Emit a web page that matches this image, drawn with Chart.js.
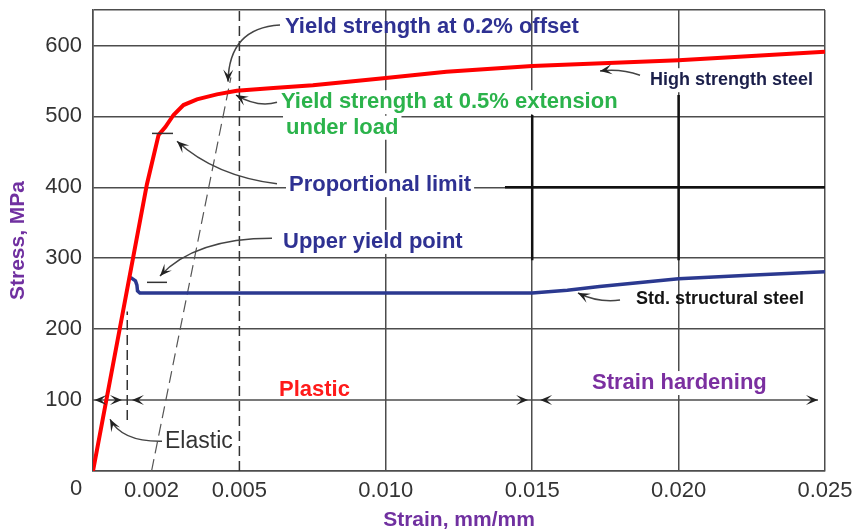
<!DOCTYPE html>
<html>
<head>
<meta charset="utf-8">
<script src="https://cdn.jsdelivr.net/npm/chart.js@4.4.0/dist/chart.umd.min.js"></script>
<style>
  html, body { margin: 0; padding: 0; background: #fff; }
</style>
</head>
<body>
<canvas id="stressChart" width="857" height="531"></canvas>
<script>
'use strict'
// values
var highStrengthStrain = [0, 0.00184, 0.00224, 0.00247, 0.00275, 0.00309, 0.00355, 0.00423, 0.00491, 0.00616, 0.00751, 0.010, 0.01207, 0.015, 0.020, 0.025];
var highStrengthStress = [0, 404, 474, 485, 502, 516, 524, 531, 536, 540, 544, 554, 563, 571, 579, 591];

var structuralStrain = [0.00128, 0.00145, 0.0015, 0.00152, 0.0016, 0.015, 0.0162, 0.0173, 0.020, 0.0224, 0.025];
var structuralStress = [273, 268, 262, 254, 251, 251, 255, 260, 271, 276, 281];

// dashed construction lines
var offsetStrain = [0.002, 0.00471];
var offsetStress = [0, 555];
var extensionStrain = [0.005, 0.005];
var extensionStress = [0, 650];
var elasticEndStrain = [0.00117, 0.00117];
var elasticEndStress = [72, 225];

// darker grid pieces visible in the picture
var darkGridA_Strain = [0.020, 0.020];
var darkGridA_Stress = [530, 297];
var darkGridB_Strain = [0.015, 0.015];
var darkGridB_Stress = [502, 297];
var darkGridC_Strain = [0.01407, 0.025];
var darkGridC_Stress = [400, 400];

var xTickValues = [0, 0.002, 0.005, 0.010, 0.015, 0.020, 0.025];
var xTickLabels = ['', '0.002', '0.005', '0.010', '0.015', '0.020', '0.025'];
var yTickValues = [0, 100, 200, 300, 400, 500, 600, 650];
var yTickLabels = ['', '100', '200', '300', '400', '500', '600', ''];

function toPoints(xs, ys) {
  var pts = [];
  for (var i = 0; i < xs.length; i++) {
    pts.push({ x: xs[i], y: ys[i] });
  }
  return pts;
}

function lineSet(label, xs, ys, color, width, dash, order) {
  return {
    label: label,
    data: toPoints(xs, ys),
    showLine: true,
    borderColor: color,
    borderWidth: width,
    borderDash: dash || [],
    pointRadius: 0,
    fill: false,
    tension: 0,
    order: order
  };
}

var FONT = '"Liberation Sans", Arial, sans-serif';

function arrowHead(ctx, x, y, ang) {
  var len = 12, w = 5;
  ctx.save();
  ctx.translate(x, y);
  ctx.rotate(ang);
  ctx.beginPath();
  ctx.moveTo(0, 0);
  ctx.lineTo(-len, -w);
  ctx.lineTo(-len * 0.55, 0);
  ctx.lineTo(-len, w);
  ctx.closePath();
  ctx.fill();
  ctx.restore();
}

// annotation texts: [text, strain, stress, color, font, whiteBackground]
var notes = [
  ['Yield strength at 0.2% offset', 0.006557, 626, '#2e3192', 'bold 22px ' + FONT, false],
  ['Yield strength at 0.5% extension', 0.006421, 520, '#2bb34b', 'bold 22px ' + FONT, true],
  ['under load', 0.006592, 484, '#2bb34b', 'bold 22px ' + FONT, true],
  ['Proportional limit', 0.006694, 403, '#2e3192', 'bold 22px ' + FONT, true],
  ['Upper yield point', 0.006489, 323, '#2e3192', 'bold 22px ' + FONT, true],
  ['High strength steel', 0.019023, 551, '#1b1f4a', 'bold 18px ' + FONT, true],
  ['Std. structural steel', 0.018545, 242, '#141414', 'bold 18px ' + FONT, false],
  ['Plastic', 0.006352, 114, '#ff1a1a', 'bold 22px ' + FONT, false],
  ['Strain hardening', 0.017042, 124, '#7b2fa0', 'bold 22px ' + FONT, true],
  ['Elastic', 0.002459, 41, '#333333', '23px ' + FONT, false]
];

// curved pointers: [start strain, start stress, ctrl strain, ctrl stress, tip strain, tip stress]
var pointers = [
  [0.006387, 629, 0.004645, 625, 0.004611, 549],
  [0.006284, 520, 0.005635, 512, 0.004884, 530],
  [0.006284, 405, 0.004167, 416, 0.002869, 465],
  [0.006113, 328, 0.003484, 328, 0.002288, 275],
  [0.002357, 42, 0.00099, 41, 0.000581, 73],
  [0.018682, 558, 0.017999, 568, 0.017316, 564],
  [0.017999, 241, 0.017247, 237, 0.016564, 251]
];

// short marks on the curves: [strain from, strain to, stress]
var marks = [
  [0.002015, 0.002732, 476],
  [0.001844, 0.002527, 266]
];

// range arrows along stress 100: [tip strain, direction]
var rangeTips = [[0.00005, -1], [0.00099, 1], [0.00133, -1], [0.01486, 1], [0.01527, -1], [0.02476, 1]];

var notesPlugin = {
  id: 'notes',
  beforeDatasetsDraw: function (chart) {
    var ctx = chart.ctx, xs = chart.scales.x, ys = chart.scales.y;
    ctx.save();
    ctx.fillStyle = '#ffffff';
    notes.forEach(function (n) {
      if (!n[5]) return;
      ctx.font = n[4];
      var w = ctx.measureText(n[0]).width;
      var x = xs.getPixelForValue(n[1]);
      var y = ys.getPixelForValue(n[2]);
      ctx.fillRect(x - 3, y - 12, w + 6, 24);
    });
    // range line at stress 100
    var yy = ys.getPixelForValue(100);
    ctx.strokeStyle = '#4d4d4d';
    ctx.lineWidth = 1.5;
    ctx.beginPath();
    ctx.moveTo(xs.getPixelForValue(0), yy);
    ctx.lineTo(xs.getPixelForValue(0.02476), yy);
    ctx.stroke();
    ctx.restore();
  },
  afterDatasetsDraw: function (chart) {
    var ctx = chart.ctx, xs = chart.scales.x, ys = chart.scales.y;
    var area = chart.chartArea;
    ctx.save();
    ctx.textBaseline = 'middle';
    ctx.textAlign = 'left';
    notes.forEach(function (n) {
      ctx.font = n[4];
      ctx.fillStyle = n[3];
      ctx.fillText(n[0], xs.getPixelForValue(n[1]), ys.getPixelForValue(n[2]));
    });

    ctx.strokeStyle = '#444444';
    ctx.fillStyle = '#222222';
    ctx.lineWidth = 1.5;
    pointers.forEach(function (p) {
      var sx = xs.getPixelForValue(p[0]), sy = ys.getPixelForValue(p[1]);
      var cx = xs.getPixelForValue(p[2]), cy = ys.getPixelForValue(p[3]);
      var ex = xs.getPixelForValue(p[4]), ey = ys.getPixelForValue(p[5]);
      ctx.beginPath();
      ctx.moveTo(sx, sy);
      ctx.quadraticCurveTo(cx, cy, ex, ey);
      ctx.stroke();
      arrowHead(ctx, ex, ey, Math.atan2(ey - cy, ex - cx));
    });

    ctx.strokeStyle = '#333333';
    marks.forEach(function (m) {
      var y = ys.getPixelForValue(m[2]);
      ctx.beginPath();
      ctx.moveTo(xs.getPixelForValue(m[0]), y);
      ctx.lineTo(xs.getPixelForValue(m[1]), y);
      ctx.stroke();
    });

    var yy = ys.getPixelForValue(100);
    rangeTips.forEach(function (t) {
      arrowHead(ctx, xs.getPixelForValue(t[0]), yy, t[1] > 0 ? 0 : Math.PI);
    });

    // shared origin label
    ctx.font = '22px ' + FONT;
    ctx.fillStyle = '#333333';
    ctx.textAlign = 'center';
    ctx.fillText('0', area.left - 17, area.bottom + 18);
    ctx.restore();
  }
};

var ctx = document.getElementById('stressChart').getContext('2d');
var chart = new Chart(ctx, {
  type: 'scatter',
  data: {
    datasets: [
      lineSet('High strength steel', highStrengthStrain, highStrengthStress, '#ff0000', 4, null, 1),
      lineSet('Std. structural steel', structuralStrain, structuralStress, '#2b3990', 3.5, null, 2),
      lineSet('0.2% offset', offsetStrain, offsetStress, '#555555', 1.2, [12, 6], 5),
      lineSet('0.5% extension', extensionStrain, extensionStress, '#333333', 1.5, [10, 5], 5),
      lineSet('Elastic end', elasticEndStrain, elasticEndStress, '#333333', 1.5, [10, 5], 5),
      lineSet('grid A', darkGridA_Strain, darkGridA_Stress, '#111111', 2.5, null, 6),
      lineSet('grid B', darkGridB_Strain, darkGridB_Stress, '#111111', 2.5, null, 6),
      lineSet('grid C', darkGridC_Strain, darkGridC_Stress, '#111111', 2.5, null, 6)
    ]
  },
  options: {
    responsive: false,
    animation: false,
    layout: { padding: { left: 0, right: 32, top: 10, bottom: 0 } },
    plugins: {
      legend: { display: false },
      tooltip: { enabled: false }
    },
    scales: {
      x: {
        type: 'linear',
        min: 0,
        max: 0.025,
        afterBuildTicks: function (s) { s.ticks = xTickValues.map(function (v) { return { value: v }; }); },
        afterFit: function (s) { s.height = 60; },
        grid: {
          drawTicks: true,
          tickLength: 9,
          tickColor: 'rgba(0,0,0,0)',
          lineWidth: 1.5,
          color: function (c) {
            if (c.tick && (c.tick.value === 0.002 || c.tick.value === 0.005)) return 'rgba(0,0,0,0)';
            return '#4d4d4d';
          }
        },
        border: { color: '#4d4d4d', width: 1.5 },
        ticks: {
          autoSkip: false,
          maxRotation: 0,
          padding: 0,
          color: '#333333',
          font: { family: FONT, size: 22, lineHeight: 1 },
          callback: function (v, i) { return xTickLabels[i]; }
        },
        title: {
          display: true,
          text: 'Strain, mm/mm',
          color: '#7030a0',
          font: { family: FONT, size: 21, weight: 'bold', lineHeight: 1 },
          padding: { top: 0, bottom: 0 }
        }
      },
      y: {
        type: 'linear',
        min: 0,
        max: 650,
        afterBuildTicks: function (s) { s.ticks = yTickValues.map(function (v) { return { value: v }; }); },
        afterFit: function (s) { s.width = 93; },
        grid: {
          drawTicks: true,
          tickLength: 11,
          tickColor: 'rgba(0,0,0,0)',
          lineWidth: 1.5,
          color: function (c) {
            if (c.tick && c.tick.value === 100) return 'rgba(0,0,0,0)';
            return '#4d4d4d';
          }
        },
        border: { color: '#4d4d4d', width: 1.5 },
        ticks: {
          padding: 0,
          color: '#333333',
          font: { family: FONT, size: 22, lineHeight: 0.8 },
          callback: function (v, i) { return yTickLabels[i]; }
        },
        title: {
          display: true,
          text: 'Stress, MPa',
          color: '#7030a0',
          font: { family: FONT, size: 21, weight: 'bold', lineHeight: 1 },
          padding: { top: 8, bottom: 0 }
        }
      }
    }
  },
  plugins: [notesPlugin]
});
</script>
</body>
</html>
